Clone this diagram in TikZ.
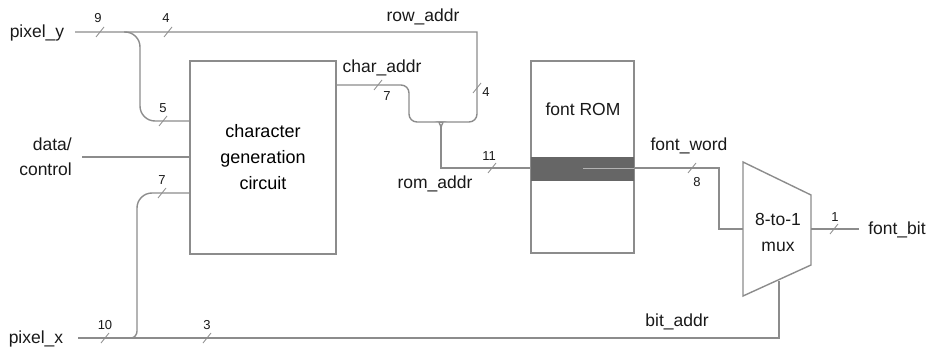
\documentclass[tikz,border=0pt]{standalone}
\usepackage{fontspec}
\setmainfont{Liberation Sans}
\begin{document}
\begin{tikzpicture}[x=1pt,y=-1pt,
  wire/.style={draw=black!45,line width=1.4pt},
  blk/.style={draw=black!45,line width=1.4pt,rectangle,inner sep=0pt,align=center,font=\fontsize{18}{26}\selectfont},
  lbl/.style={inner sep=0pt,font=\fontsize{17.5}{26}\selectfont,text=black!90,align=center},
  num/.style={inner sep=0pt,font=\fontsize{13}{15}\selectfont,text=black!90},
  bus/.style={insert path={++(-4,5) -- ++(8,-10)}}]
\useasboundingbox (0,0) rectangle (929,350);
% blocks
\node[blk,minimum width=146pt,minimum height=193pt] (cg) at (263,157.5) {character\\generation\\circuit};
\node[blk,minimum width=103pt,minimum height=192pt] (rom) at (582.5,157) {};
\fill[black!60] (531,157) rectangle (634,181);
\draw[black!30,line width=0.8pt] (583,168) -- (634,168);
\draw[draw=black!45,line width=1.4pt] (rom.south west) rectangle (rom.north east);
\node[lbl] (romlbl) at (583,109) {font ROM};
% mux
\coordinate (m1) at (743,162);
\coordinate (m2) at (811,195);
\coordinate (m3) at (811,265);
\coordinate (m4) at (743,296);
\draw[wire] (m1) -- (m2) -- (m3) -- (m4) -- cycle;
\node[lbl] (muxlbl) at (778,232) {8-to-1\\mux};
% input labels
\node[lbl] (py) at (37,33) {pixel\_y};
\node[lbl,align=right,anchor=east,font=\fontsize{17.5}{25}\selectfont] (dc) at (72,157) {data/\\control};
\node[lbl] (px) at (36,339) {pixel\_x};
\node[lbl] (fb) at (897,230) {font\_bit};
\coordinate (pyin) at (75,32);
\coordinate (dcin) at (82,157);
\coordinate (pxin) at (78,338);
\coordinate (fbout) at (859,229);
\coordinate (junc) at (441,128);
% pixel_y
\draw[wire] (pyin) -- (477,32) [rounded corners=8pt] -- (477,122) -- (449,122) [sharp corners] to[out=180,in=90] (junc);
\draw[wire,rounded corners=15pt] (124,32) -- (140,32) -- (140,121) -- (cg.west |- 0,121);
% data/control
\draw[wire] (dcin) -- (cg.west |- dcin);
% pixel_x
\draw[wire] (pxin) -- (779,338) -- (779,281);
\draw[wire] (131,338) to[out=0,in=-90] (137,331) [rounded corners=15pt] -- (137,193) -- (cg.west |- 0,193);
% char_addr
\draw[wire] (cg.east |- 0,85) [rounded corners=8pt] -- (409,85) -- (409,122) -- (433,122) [sharp corners] to[out=0,in=90] (junc);
\draw[wire] (junc) -- (441,168) -- (rom.west |- 0,168);
% font_word
\draw[wire] (rom.east |- 0,168) -- (719,168) -- (719,229) -- (743,229);
% font_bit
\draw[wire] (811,229) -- (fbout);
% bus slashes
\foreach \p in {(100,32),(168,32),(163,121),(162,193),(105,338),(207,338),(378,85),(477,88),(492,168),(692,168),(834,229)}
  \draw[black!45,line width=0.8pt] \p [bus];
% numbers
\node[num] (n9) at (98,18) {9};
\node[num] (n4a) at (166,18) {4};
\node[num] (n5) at (163,108) {5};
\node[num] (n7a) at (162,180) {7};
\node[num] (n10) at (105,325) {10};
\node[num] (n3) at (207,325) {3};
\node[num] (n7b) at (387,96) {7};
\node[num] (n4b) at (486,92) {4};
\node[num] (n11) at (489,156) {11};
\node[num] (n8) at (697,182) {8};
\node[num] (n1) at (835,217) {1};
% signal labels
\node[lbl] (ra) at (423,17) {row\_addr};
\node[lbl] (ca) at (382,68) {char\_addr};
\node[lbl] (rma) at (435,184) {rom\_addr};
\node[lbl] (fw) at (689,146) {font\_word};
\node[lbl] (ba) at (677,322) {bit\_addr};
\end{tikzpicture}
\end{document}
